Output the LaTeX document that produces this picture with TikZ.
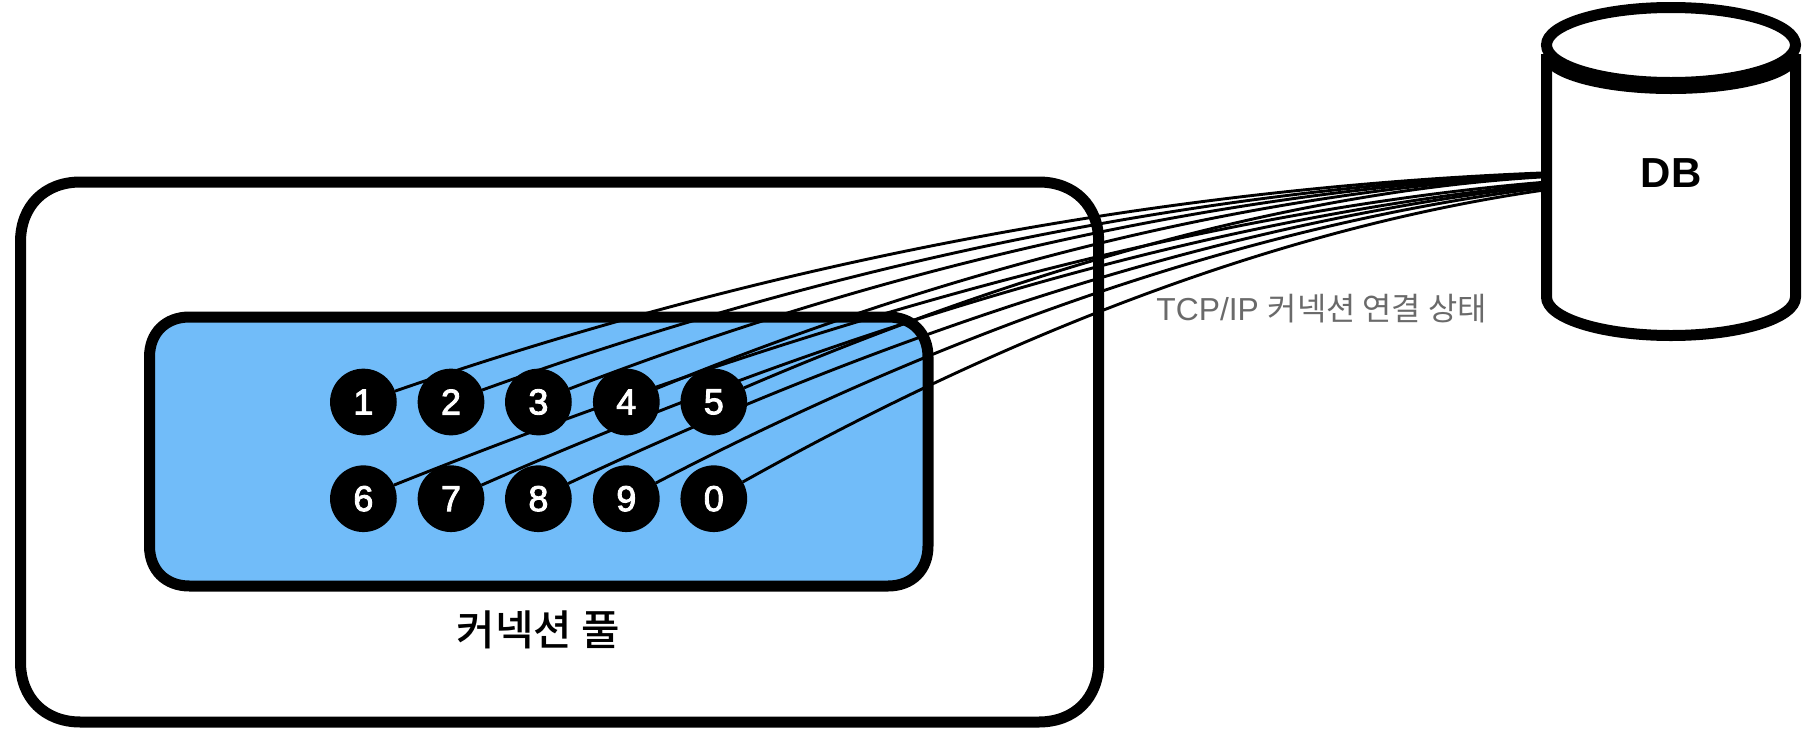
\documentclass[tikz,border=0pt]{standalone}
\usepackage{fontspec}
\setmainfont{Liberation Sans}
\newfontfamily\cjkreg{Noto Sans CJK KR}
\newfontfamily\cjkmed{Noto Sans CJK KR Medium}
\newfontfamily\numfont{Liberation Sans}[FakeBold=2.5]
\newfontfamily\headfont{Liberation Sans Bold}
\definecolor{poolblue}{HTML}{71BCF9}
\definecolor{labelgray}{HTML}{6A6A6A}
\pgfdeclarelayer{boxes}
\pgfdeclarelayer{wires}
\pgfsetlayers{boxes,wires,main}
\tikzset{
  box/.style={draw=black,line width=11pt},
  conn/.style={circle,fill=black,text=white,minimum size=66.7pt,inner sep=0pt,outer sep=0pt,
    font=\numfont\fontsize{36}{36}\selectfont},
  wire/.style={draw=black,line width=2.9pt},
  cyl/.style={draw=black,line width=11pt},
}
% #1 style, #2 left, #3 top, #4 right, #5 bottom (y down), #6 corner extent, #7 control distance
\newcommand\softbox[7]{%
  \draw[box,#1] (#2+#6,-#3) -- (#4-#6,-#3)
    .. controls (#4-#7,-#3) and (#4,-#3-#7) .. (#4,-#3-#6)
    -- (#4,-#5+#6)
    .. controls (#4,-#5+#7) and (#4-#7,-#5) .. (#4-#6,-#5)
    -- (#2+#6,-#5)
    .. controls (#2+#7,-#5) and (#2,-#5+#7) .. (#2,-#5+#6)
    -- (#2,-#3-#6)
    .. controls (#2,-#3-#7) and (#2+#7,-#3) .. (#2+#6,-#3) -- cycle;
}
% #1 node, #2 anchor angle, #3 end coordinate name, #4 end y, #5 start slope, #6 end slope
\newcommand\wirelink[6]{%
  \pgfpointanchor{#1}{#2}\pgfgetlastxy{\wirex}{\wirey}%
  \pgfmathsetmacro\wxa{\wirex}\pgfmathsetmacro\wya{\wirey}%
  \pgfmathsetmacro\wcx{(-#4-#6*1541-\wya+#5*\wxa)/(#5-#6)}%
  \pgfmathsetmacro\wcy{\wya+#5*(\wcx-\wxa)}%
  \pgfmathsetmacro\wpx{\wxa+0.66*(\wcx-\wxa)}%
  \pgfmathsetmacro\wpy{\wya+0.66*(\wcy-\wya)}%
  \pgfmathsetmacro\wqx{1541+0.66*(\wcx-1541)}%
  \pgfmathsetmacro\wqy{-#4+0.66*(\wcy+#4)}%
  \coordinate (#3) at (1541,-#4);
  \draw[wire] (#1.#2) .. controls (\wpx,\wpy) and (\wqx,\wqy) .. (#3);
}
\begin{document}
\begin{tikzpicture}[x=1pt,y=1pt]
\useasboundingbox (0,0) rectangle (1820,-742);
\begin{pgfonlayer}{boxes}
  \softbox{fill=white}{20.5}{182}{1098.7}{722}{60}{24}
  \softbox{fill=poolblue}{149.5}{317}{928}{586}{40}{16}
  % database cylinder
  \draw[cyl,fill=white] (1546.5,-54) -- (1546.5,-297) arc[start angle=180,end angle=360,x radius=124.5,y radius=38.5] -- (1795.5,-54);
  \draw[cyl] (1546.5,-54) arc[start angle=180,end angle=360,x radius=124.5,y radius=34.5];
  \draw[cyl,fill=white] (1671,-45) ellipse[x radius=124.5,y radius=37.5];
\end{pgfonlayer}

\node[conn] (n1) at (363.4,-402) {\raisebox{-1.5pt}{1}};
\node[conn] (n2) at (451,-402) {\raisebox{-1.5pt}{2}};
\node[conn] (n3) at (538.4,-402) {\raisebox{-1.5pt}{3}};
\node[conn] (n4) at (626.3,-402) {\raisebox{-1.5pt}{4}};
\node[conn] (n5) at (713.8,-402) {\raisebox{-1.5pt}{5}};
\node[conn] (n6) at (363.4,-498.7) {\raisebox{-1.5pt}{6}};
\node[conn] (n7) at (451,-498.7) {\raisebox{-1.5pt}{7}};
\node[conn] (n8) at (538.4,-498.7) {\raisebox{-1.5pt}{8}};
\node[conn] (n9) at (626.3,-498.7) {\raisebox{-1.5pt}{9}};
\node[conn] (n0) at (713.8,-498.7) {\raisebox{-1.5pt}{0}};

\begin{pgfonlayer}{wires}
  \wirelink{n1}{19}{e1}{173}{0.345}{0.04}
  \wirelink{n2}{21}{e2}{174}{0.36}{0.045}
  \wirelink{n3}{23}{e3}{175}{0.385}{0.05}
  \wirelink{n4}{24}{e4}{176}{0.41}{0.055}
  \wirelink{n5}{25}{e5}{177}{0.43}{0.06}
  \wirelink{n6}{24}{e6}{182.5}{0.40}{0.085}
  \wirelink{n7}{24}{e7}{184.5}{0.44}{0.10}
  \wirelink{n8}{27}{e8}{186}{0.47}{0.11}
  \wirelink{n9}{28}{e9}{188}{0.52}{0.125}
  \wirelink{n0}{30}{e0}{190.5}{0.56}{0.145}
\end{pgfonlayer}

\node[font=\headfont\fontsize{42}{42}\selectfont,text=black] (db) at (1671,-173) {DB};
\node[font=\cjkmed\fontsize{41.8}{42}\selectfont,text=black] (poolname) at (538.5,-630) {커넥션 풀};
\node[font=\fontsize{31.8}{32}\selectfont,text=labelgray] (tcplabel) at (1321.6,-309) {TCP/IP {\cjkreg 커넥션 연결 상태}};
\end{tikzpicture}
\end{document}
